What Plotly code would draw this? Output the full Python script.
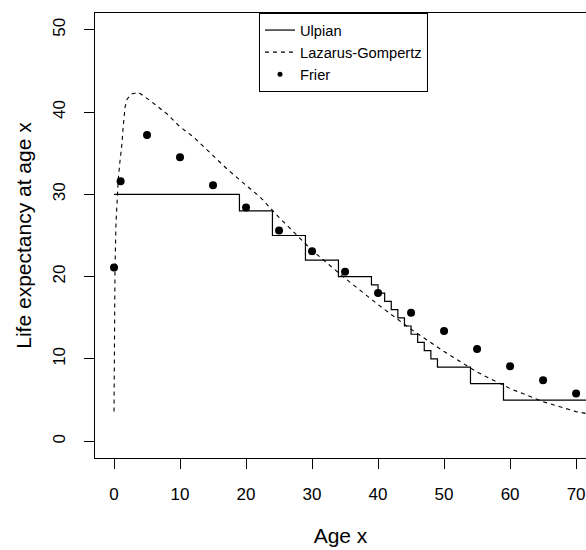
import plotly.graph_objects as go

# Ulpian life table (step function): age at which each value starts
ulpian_age = [0, 19, 24, 29, 34, 39, 40, 41, 42, 43, 44, 45, 46, 47, 48, 49, 54, 59, 72]
ulpian_e = [30, 28, 25, 22, 20, 19, 18, 17, 16, 15, 14, 13, 12, 11, 10, 9, 7, 5, 5]

# Lazarus-Gompertz curve
lg_age = [0, 0.05, 0.15, 0.3, 0.5, 0.65, 0.9, 1.16, 1.4, 1.67, 2.0, 2.7, 3.7, 5.45, 8, 10, 12,
          15, 17.1, 20, 22.1, 25, 30, 35, 40, 45, 50, 55, 60, 65, 70, 72]
lg_e = [3.6, 12.0, 21.0, 26.5, 30.1, 31.9, 34.0, 35.8, 38.3, 40.6, 41.6, 42.2, 42.4, 41.4, 39.8, 38.2, 37.0,
        34.7, 33.1, 31.1, 29.7, 27.2, 23.2, 19.8, 16.6, 13.6, 10.9, 8.4, 6.4, 4.8, 3.6, 3.3]

# Frier's life table
frier_age = [0, 1, 5, 10, 15, 20, 25, 30, 35, 40, 45, 50, 55, 60, 65, 70]
frier_e = [21.1, 31.6, 37.2, 34.5, 31.1, 28.4, 25.6, 23.1, 20.6, 18.0, 15.6, 13.4, 11.2, 9.1, 7.4, 5.8]

x_ticks = [0, 10, 20, 30, 40, 50, 60, 70]
y_ticks = [0, 10, 20, 30, 40, 50]

FONT = "Liberation Sans, Arial, Helvetica, sans-serif"

fig = go.Figure()
fig.add_trace(go.Scatter(x=ulpian_age, y=ulpian_e, mode="lines", name="Ulpian",
                         line=dict(color="black", width=1.2, shape="hv")))
fig.add_trace(go.Scatter(x=lg_age, y=lg_e, mode="lines", name="Lazarus-Gompertz",
                         line=dict(color="black", width=1.1, dash="4px,4px")))
fig.add_trace(go.Scatter(x=frier_age, y=frier_e, mode="markers", name="Frier", showlegend=False,
                         marker=dict(color="black", size=8, symbol="circle")))
fig.add_trace(go.Scatter(x=[None], y=[None], mode="markers", name="Frier",
                         marker=dict(color="black", size=5, symbol="circle")))

fig.update_layout(
    width=586, height=550,
    margin=dict(l=95, r=0, t=13, b=92, autoexpand=False),
    paper_bgcolor="white", plot_bgcolor="white",
    font=dict(family=FONT, color="black", size=17),
    showlegend=True,
    legend=dict(x=(259 - 95) / 491, y=1, xanchor="left", yanchor="top",
                bordercolor="black", borderwidth=1, bgcolor="white",
                font=dict(size=14.7, family=FONT), tracegroupgap=0),
    xaxis=dict(range=[-2.88, 71.5], tickvals=x_ticks, ticks="outside", ticklen=10,
               tickcolor="black", tickwidth=1, showline=True, linecolor="black", linewidth=1,
               mirror=True, showgrid=False, zeroline=False, tickfont=dict(size=17),
               ticklabelstandoff=11,
               title=dict(text="Age x", font=dict(size=21), standoff=24)),
    yaxis=dict(range=[-2.04, 52.04], tickvals=y_ticks, ticks="outside", ticklen=10,
               tickcolor="black", tickwidth=1, showline=True, linecolor="black", linewidth=1,
               showgrid=False, zeroline=False, tickangle=-90, tickfont=dict(size=17),
               ticklabelstandoff=12,
               title=dict(text="Life expectancy at age x", font=dict(size=21), standoff=12)),
)

fig.write_html("out.html")
